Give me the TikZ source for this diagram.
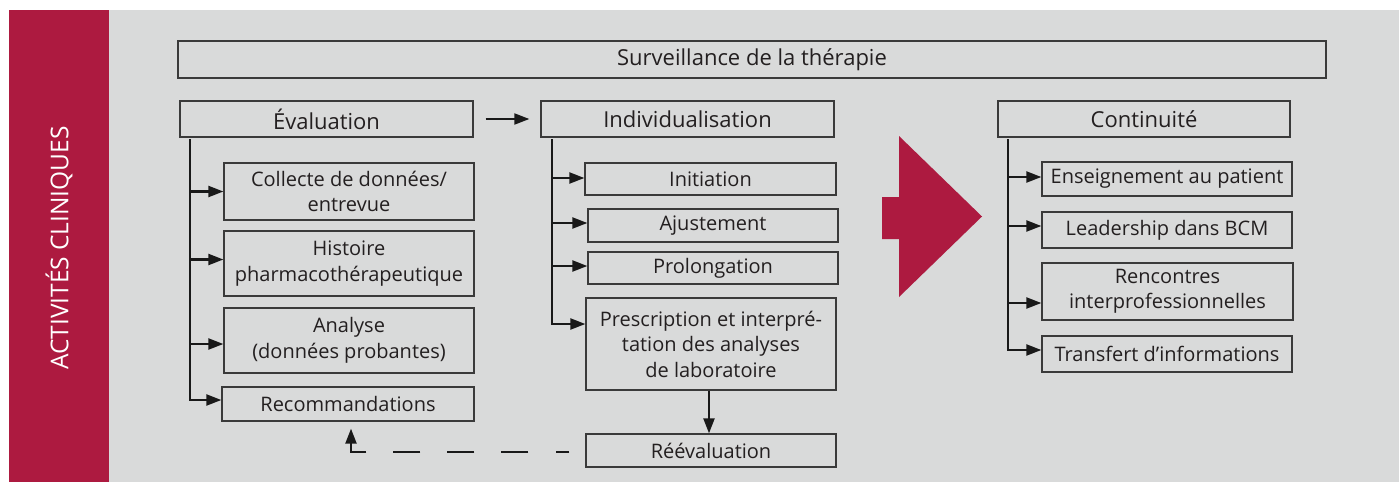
\documentclass[tikz,border=0pt]{standalone}
\usepackage{fontspec}
\setmainfont{Open Sans}
\usetikzlibrary{arrows.meta}
\definecolor{bggray}{HTML}{D9DADA}
\definecolor{bandred}{HTML}{AD1A40}
\definecolor{boxline}{HTML}{3A3A3A}
\definecolor{txt}{HTML}{231F20}

\begin{document}
\begin{tikzpicture}[x=1pt, y=-1pt,
    box/.style={rectangle, draw=boxline, line width=1.3pt, text=txt, align=center, inner sep=0pt, font=\fontsize{20}{25.5}\selectfont},
    headbox/.style={box, font=\fontsize{22}{26}\selectfont},
    arr/.style={-{Triangle[length=15pt,width=11pt]}, line width=2.2pt, draw=black!90},
    fb/.style={arr, shorten <=16pt, dash pattern=on 13pt off 28pt on 27pt off 27pt on 27pt off 27pt on 27pt off 27pt on 200pt}]
%    \draw [help lines, opacity=0.5] (0,0) grid [step=50] (1399,482);
    \useasboundingbox (0,0) rectangle (1399,482);
    %% background and side band
    \fill [bggray] (109,10) rectangle (1399,482);
    \fill [bandred] (9,10) rectangle (109,482);
    \node (band) [text=white, rotate=90, font=\fontsize{24.5}{28}\selectfont] at (59,248) {ACTIVITÉS CLINIQUES};

    %% top row
    \node (surv) [headbox, minimum width=1148pt, minimum height=37pt] at (752,59.5) {Surveillance de la thérapie};
    \node (eval) [headbox, minimum width=293pt, minimum height=36pt] at (326.5,119) {Évaluation};
    \node (indiv) [headbox, minimum width=293pt, minimum height=36pt] at (687.5,119) {Individualisation};
    \node (cont) [headbox, minimum width=292pt, minimum height=36pt] at (1144,119) {Continuité};

    %% evaluation column
    \node (collecte) [box, minimum width=250pt, minimum height=57pt] at (349,191.5) {Collecte de données/\\entrevue};
    \node (histoire) [box, minimum width=250pt, minimum height=65pt] at (349,263.5) {Histoire\\pharmacothérapeutique};
    \node (analyse) [box, minimum width=250pt, minimum height=65pt] at (349,340.5) {Analyse\\(données probantes)};
    \node (recomm) [box, minimum width=252pt, minimum height=34pt] at (348,404) {Recommandations};

    %% individualisation column
    \node (initiation) [box, minimum width=251pt, minimum height=32pt] at (710.5,179) {Initiation};
    \node (ajust) [box, minimum width=250pt, minimum height=33pt] at (713,225.5) {Ajustement};
    \node (prolong) [box, minimum width=250pt, minimum height=32pt] at (713,268) {Prolongation};
    \node (prescr) [box, minimum width=250pt, minimum height=92pt] at (711,344) {Prescription et interpré-\\tation des analyses\\de laboratoire};
    \node (reeval) [box, minimum width=250pt, minimum height=33pt] at (711,450.5) {Réévaluation};

    %% continuity column
    \node (enseign) [box, minimum width=250pt, minimum height=34pt] at (1167,179) {Enseignement au patient};
    \node (leader) [box, minimum width=250pt, minimum height=36pt] at (1167,230) {Leadership dans BCM};
    \node (rencontres) [box, minimum width=251pt, minimum height=57pt] at (1167.5,291.5) {Rencontres\\interprofessionnelles};
    \node (transfert) [box, minimum width=250pt, minimum height=36pt] at (1167,354) {Transfert d’informations};

    %% big red arrow
    \fill [bandred] (882,197) -- (899,197) -- (899,136) -- (982,216.5) -- (899,297) -- (899,239) -- (882,239) -- cycle;

    \coordinate (et) at (190,139);
    \coordinate (it) at (552,139);
    \coordinate (ct) at (1008,139);

    \draw [arr, line width=2pt, shorten <=12pt, shorten >=11pt] (eval) -- (indiv);

    \draw [arr] (et) |- (collecte.west);
    \draw [arr] (et) |- ([yshift=4pt]histoire.west);
    \draw [arr] (et) |- ([yshift=-3.5pt]analyse.west);
    \draw [arr] (et) |- ([yshift=4pt]recomm.west);

    \draw [arr] (it) |- ([yshift=1pt]initiation.west);
    \draw [arr] (it) |- ([yshift=2.5pt]ajust.west);
    \draw [arr] (it) |- ([yshift=2pt]prolong.west);
    \draw [arr] (it) |- ([yshift=20pt]prescr.west);

    \draw [arr] (ct) |- ([yshift=2pt]enseign.west);
    \draw [arr] (ct) |- ([yshift=4pt]leader.west);
    \draw [arr] (ct) |- ([yshift=-11.5pt]rencontres.west);
    \draw [arr] (ct) |- ([yshift=4pt]transfert.west);

    \draw [arr] ([xshift=-2pt]prescr.south) -- ([xshift=-2pt]reeval.north);
    %% feedback loop
    \draw [fb] ([yshift=-1.5pt]reeval.west) -| ([xshift=3pt, yshift=-7pt]recomm.south);
\end{tikzpicture}
\end{document}
